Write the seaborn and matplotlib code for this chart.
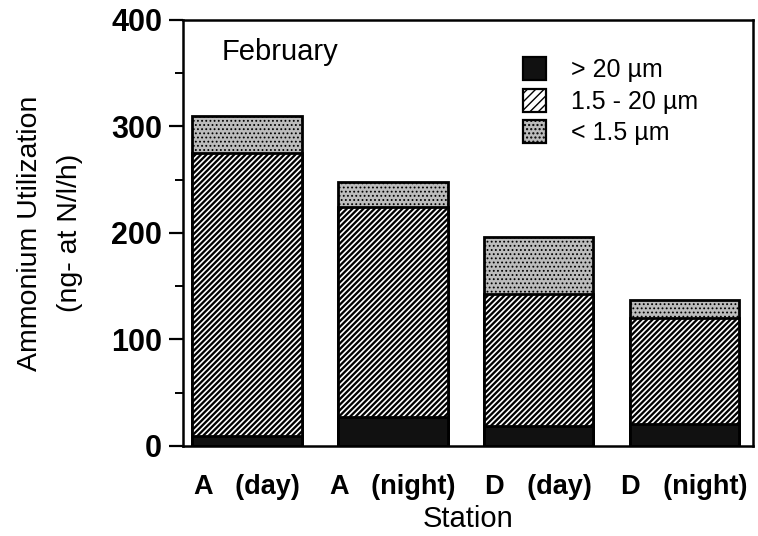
import matplotlib
matplotlib.use("Agg")
import matplotlib.pyplot as plt
from matplotlib.patches import Patch
from matplotlib.ticker import MultipleLocator
import seaborn as sns
import pandas as pd

# Size-fractionated ammonium utilization, February
stations = ["A   (day)", "A   (night)", "D   (day)", "D   (night)"]
frac_gt20 = [9, 27, 19, 21]        # > 20 um
frac_mid = [266, 197, 124, 99]     # 1.5 - 20 um
frac_lt15 = [35, 24, 53, 17]       # < 1.5 um
legend_labels = ["> 20 \u00b5m", "1.5 - 20 \u00b5m", "< 1.5 \u00b5m"]
yticks = [0, 100, 200, 300, 400]

sns.set_theme(style="ticks")
plt.rcParams["font.family"] = ["Liberation Sans", "DejaVu Sans"]
plt.rcParams["hatch.color"] = "black"
for key in ["text.color", "axes.labelcolor", "xtick.color", "ytick.color"]:
    plt.rcParams[key] = "black"

df = pd.DataFrame({
    "station": stations,
    "gt20": frac_gt20,
    "mid": frac_mid,
    "lt15": frac_lt15,
})
df["cum_mid"] = df["gt20"] + df["mid"]
df["total"] = df["cum_mid"] + df["lt15"]

STIPPLE = "#bcbcbc"
DARK = "#111111"


def set_hatch_lw(patch, lw):
    if hasattr(patch, "set_hatch_linewidth"):
        patch.set_hatch_linewidth(lw)
    else:
        patch._hatch_linewidth = lw


fig = plt.figure(figsize=(7.58, 5.36), dpi=100)
ax = fig.add_axes([0.2414, 0.168, 0.752, 0.795])

bar_w = 0.75
# cumulative layers drawn back to front
layers = [
    ("total", STIPPLE, "....", 0.8),
    ("cum_mid", "white", "//////", 1.65),
    ("gt20", DARK, None, 1.0),
]
for col, face, hatch, hlw in layers:
    n_before = len(ax.patches)
    sns.barplot(data=df, x="station", y=col, color=face, width=bar_w,
                edgecolor="black", linewidth=2.0, ax=ax, errorbar=None,
                saturation=1)
    for p in ax.patches[n_before:]:
        p.set_facecolor(face)
        p.set_edgecolor("black")
        if hatch:
            p.set_hatch(hatch)
            set_hatch_lw(p, hlw)

ax.set_ylim(0, 400)
ax.set_xlim(-0.44, 3.47)
ax.set_yticks(yticks)
ax.yaxis.set_minor_locator(MultipleLocator(50))
ax.tick_params(axis="y", which="major", length=10, width=1.6, direction="out",
               labelsize=22, pad=5)
ax.tick_params(axis="y", which="minor", length=6, width=1.4, direction="out")
ax.tick_params(axis="x", length=0, labelsize=19.5, pad=20)
for lab in ax.get_yticklabels() + ax.get_xticklabels():
    lab.set_fontweight("bold")

for side in ["left", "right", "top", "bottom"]:
    ax.spines[side].set_visible(True)
    ax.spines[side].set_linewidth(1.8)
    ax.spines[side].set_color("black")

ax.set_xlabel("Station", fontsize=21, labelpad=4)
ax.set_ylabel("Ammonium Utilization\n(ng- at N/l/h)", fontsize=20.5,
              labelpad=20, linespacing=1.7)

ax.text(0.068, 0.925, "February", transform=ax.transAxes, fontsize=21,
        ha="left", va="center")

handles = []
for face, hatch, hlw in [(DARK, None, 1.0), ("white", "////", 2.2),
                         (STIPPLE, "....", 0.8)]:
    h = Patch(facecolor=face, edgecolor="black", hatch=hatch, linewidth=1.6)
    set_hatch_lw(h, hlw)
    handles.append(h)
ax.legend(handles, legend_labels, loc="upper left",
          bbox_to_anchor=(0.574, 0.942), frameon=False, fontsize=18,
          handlelength=0.95, handleheight=1.05, handletextpad=1.0,
          labelspacing=0.26, borderpad=0)

fig.savefig("out.png", dpi=100, facecolor="white")
